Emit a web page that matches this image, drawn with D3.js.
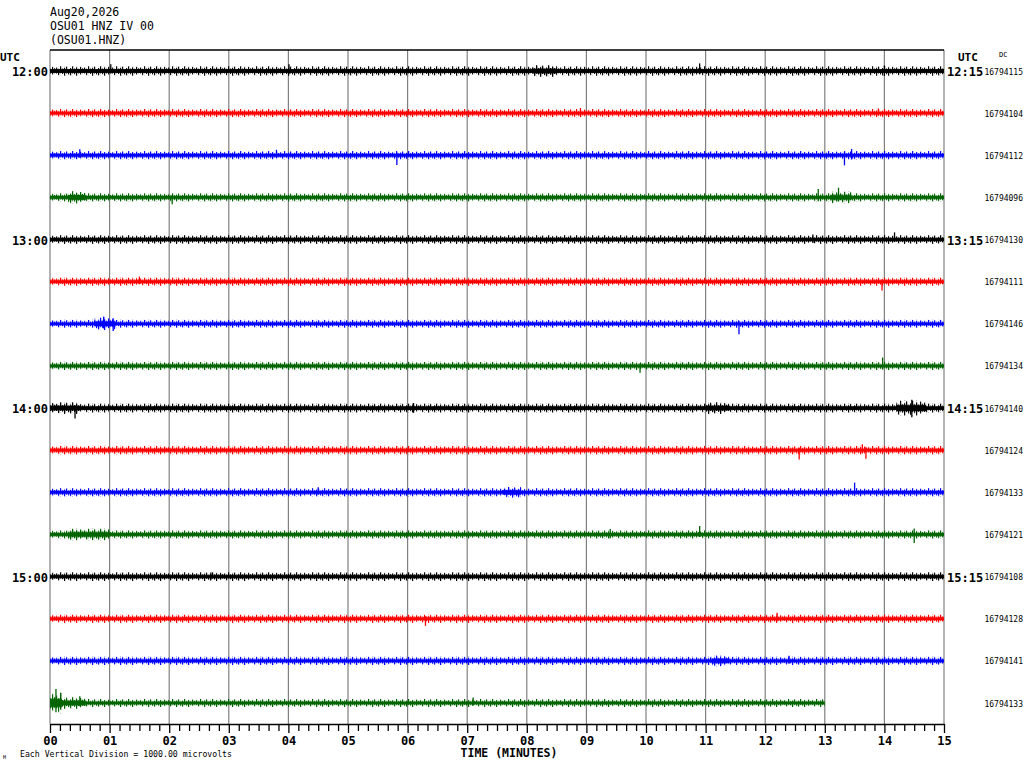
<!DOCTYPE html>
<html>
<head>
<meta charset="utf-8">
<script src="https://cdn.jsdelivr.net/npm/d3@7"></script>
<style>
  body { margin: 0; background: #fff; }
  svg { display: block; }
  text { font-family: "DejaVu Sans Mono", monospace; fill: #000; }
</style>
</head>
<body>
<div id="heli"></div>
<script>
// header lines
const headerLines = ["Aug20,2026", "OSU01 HNZ IV 00", "(OSU01.HNZ)"];
// hour labels, row index -> left / right label
const hourRows = [0, 4, 8, 12];
const leftLabels = ["12:00", "13:00", "14:00", "15:00"];
const rightLabels = ["12:15", "13:15", "14:15", "15:15"];
// DC offset value per row
const dcValues = [16794115, 16794104, 16794112, 16794096, 16794130, 16794111, 16794146, 16794134,
                  16794140, 16794124, 16794133, 16794121, 16794108, 16794128, 16794141, 16794133];
const traceColors = ["#000000", "#ff0000", "#0000ff", "#006400"];
// minutes of data in each row
const traceEnd = [15, 15, 15, 15, 15, 15, 15, 15, 15, 15, 15, 15, 15, 15, 15, 13];
// background noise envelope per row (microvolts)
const noiseLevel = [115, 100, 100, 100, 105, 100, 95, 100, 110, 105, 100, 100, 105, 100, 100, 95];
// louder stretches: [row, fromMin, toMin, microvolts]
const bursts = [
  [0, 8.1, 8.5, 140], [3, 0.3, 0.6, 150], [3, 13.1, 13.45, 140], [6, 0.75, 1.1, 150],
  [8, 0.0, 0.5, 140], [8, 11.0, 11.4, 140], [8, 14.2, 14.7, 180], [10, 7.6, 7.9, 130],
  [11, 0.3, 1.0, 140], [14, 11.1, 11.4, 130], [15, 0.0, 0.2, 250], [15, 0.2, 0.6, 140]
];
// single spikes: [row, minute, up microvolts, down microvolts]
const spikes = [
  [0, 1.02, 160, 60], [0, 4.01, 160, 70], [0, 10.9, 180, 80], [0, 14.0, 130, 120],
  [1, 8.9, 120, 80], [1, 13.9, 110, 60],
  [2, 0.5, 140, 60], [2, 3.8, 130, 60], [2, 5.82, 60, 230], [2, 13.33, 80, 240], [2, 13.45, 150, 100],
  [3, 2.05, 60, 160], [3, 12.89, 200, 90], [3, 13.23, 230, 100],
  [4, 12.8, 120, 80], [4, 14.17, 170, 60],
  [5, 1.5, 120, 60], [5, 13.96, 60, 210],
  [6, 0.9, 170, 110], [6, 1.06, 130, 170], [6, 11.56, 60, 250],
  [7, 9.9, 60, 160], [7, 13.97, 200, 60],
  [8, 0.42, 60, 250], [8, 6.1, 120, 110], [8, 14.46, 200, 220],
  [9, 12.57, 60, 220], [9, 13.63, 140, 80], [9, 13.69, 70, 200],
  [10, 4.5, 120, 60], [10, 13.5, 230, 60],
  [11, 9.4, 130, 90], [11, 10.9, 200, 60], [11, 14.5, 140, 200],
  [12, 2.7, 100, 70],
  [13, 6.3, 60, 170], [13, 12.2, 140, 60],
  [14, 12.4, 120, 70],
  [15, 0.1, 330, 220], [15, 0.18, 240, 160], [15, 0.5, 160, 80], [15, 7.1, 130, 60]
];
const minutes = d3.range(0, 16);

const W = 1024, H = 768;
const svg = d3.select("#heli").append("svg").attr("width", W).attr("height", H);

const x = d3.scaleLinear().domain([0, 15]).range([50, 944]);
const yRow = d3.scaleLinear().domain([0, 15]).range([71, 703]);
const rowStep = yRow(1) - yRow(0);
const amp = d3.scaleLinear().domain([0, 1000]).range([0, rowStep]); // one division per row
const axisY = 724, topY = 50;

// noise texture (fractions of the envelope), drawn as a pattern in pixel units
const hairs = [[0, -0.7, 0.5], [2, -0.45, 0.85], [4, -1, 0.45], [6, -0.5, 0.6], [8, -0.65, 1],
               [10, -0.9, 0.5], [12, -0.4, 0.7], [14, -0.6, 0.9], [16, -1, 0.5],
               [18, -0.5, 0.65], [20, -0.75, 1], [22, -0.45, 0.5], [24, -0.85, 0.7], [26, -0.55, 0.45]];
const defs = svg.append("defs");
let patId = 0;
function noisePattern(color, halfPx) {
  const id = "noise" + (patId++);
  const p = defs.append("pattern")
    .attr("id", id)
    .attr("patternUnits", "userSpaceOnUse")
    .attr("x", 0).attr("y", -halfPx).attr("width", 28).attr("height", 2 * halfPx);
  p.append("rect").attr("x", 0).attr("y", halfPx - halfPx * 0.4)
    .attr("width", 28).attr("height", halfPx * 0.8).attr("fill", color);
  hairs.forEach(h => {
    p.append("rect").attr("x", h[0]).attr("y", halfPx + h[1] * halfPx).attr("width", 1.2)
      .attr("height", (h[2] - h[1]) * halfPx).attr("fill", color);
  });
  return id;
}

// grid
svg.append("g").selectAll("line").data(minutes).join("line")
  .attr("x1", d => x(d)).attr("x2", d => x(d))
  .attr("y1", topY).attr("y2", axisY)
  .attr("stroke", "#808080").attr("stroke-width", 1.2);
svg.append("line").attr("x1", x(0)).attr("x2", x(15)).attr("y1", topY).attr("y2", topY)
  .attr("stroke", "#000").attr("stroke-width", 1.3);

// traces
const traces = svg.append("g");
d3.range(16).forEach(r => {
  const color = traceColors[r % 4];
  const g = traces.append("g").attr("transform", `translate(0,${yRow(r)})`);
  const a = amp(noiseLevel[r]);
  g.append("rect")
    .attr("x", x(0)).attr("y", -a)
    .attr("width", x(traceEnd[r]) - x(0)).attr("height", 2 * a)
    .attr("fill", `url(#${noisePattern(color, a)})`);
  bursts.filter(b => b[0] === r).forEach(b => {
    const ab = amp(b[3]);
    g.append("rect")
      .attr("x", x(b[1])).attr("y", -ab)
      .attr("width", x(b[2]) - x(b[1])).attr("height", 2 * ab)
      .attr("fill", `url(#${noisePattern(color, ab)})`);
  });
  g.selectAll("line").data(spikes.filter(s => s[0] === r)).join("line")
    .attr("x1", d => x(d[1])).attr("x2", d => x(d[1]))
    .attr("y1", d => -amp(d[2])).attr("y2", d => amp(d[3]))
    .attr("stroke", color).attr("stroke-width", 1.3);
});

// time axis
const minor = d3.range(0, 90).map(i => i / 6).filter(v => v % 1 !== 0);
svg.append("g").attr("transform", `translate(0,${axisY})`)
  .call(d3.axisBottom(x).tickValues(minor).tickSize(7).tickSizeOuter(0).tickFormat(""))
  .call(g => g.selectAll("line").attr("stroke", "#000").attr("stroke-width", 1.3))
  .call(g => g.select(".domain").attr("stroke", "#000").attr("stroke-width", 1.5));
svg.append("g").attr("transform", `translate(0,${axisY})`)
  .call(d3.axisBottom(x).tickValues(minutes).tickSize(9).tickSizeOuter(0).tickFormat(d3.format("02d")))
  .call(g => g.select(".domain").remove())
  .call(g => g.selectAll("line").attr("stroke", "#000").attr("stroke-width", 1.3))
  .call(g => g.selectAll("text").attr("y", 21).attr("dy", null)
    .style("font-family", "'DejaVu Sans Mono', monospace")
    .style("font-size", "12px").style("font-weight", "bold").attr("fill", "#000"));

svg.append("text").attr("x", (x(0) + x(15)) / 2 + 12).attr("y", 757)
  .attr("text-anchor", "middle").style("font-size", "11.5px").style("font-weight", "bold")
  .text("TIME (MINUTES)");
svg.append("text").attr("x", 20).attr("y", 757).style("font-size", "8.2px")
  .text("Each Vertical Division = 1000.00 microvolts");
svg.append("text").attr("x", 3).attr("y", 759).style("font-size", "5px").text("M");

// header
svg.append("g").selectAll("text").data(headerLines).join("text")
  .attr("x", 50).attr("y", (d, i) => 16 + i * 14)
  .style("font-size", "11.5px")
  .text(d => d);

// row labels
svg.append("text").attr("x", 0).attr("y", 61).style("font-size", "11px").style("font-weight", "bold").text("UTC");
svg.append("text").attr("x", 958).attr("y", 61).style("font-size", "11px").style("font-weight", "bold").text("UTC");
svg.append("text").attr("x", 999).attr("y", 57).style("font-size", "7px").text("DC");

svg.append("g").selectAll("text").data(leftLabels).join("text")
  .attr("x", 48).attr("y", (d, i) => yRow(hourRows[i]) + 5)
  .attr("text-anchor", "end").style("font-size", "12px").style("font-weight", "bold")
  .text(d => d);
svg.append("g").selectAll("text").data(rightLabels).join("text")
  .attr("x", 947).attr("y", (d, i) => yRow(hourRows[i]) + 5)
  .style("font-size", "12px").style("font-weight", "bold")
  .text(d => d);
svg.append("g").selectAll("text").data(dcValues).join("text")
  .attr("x", 1023).attr("y", (d, i) => yRow(i) + 3.5)
  .attr("text-anchor", "end").style("font-size", "8px")
  .text(d => d);
</script>
</body>
</html>
